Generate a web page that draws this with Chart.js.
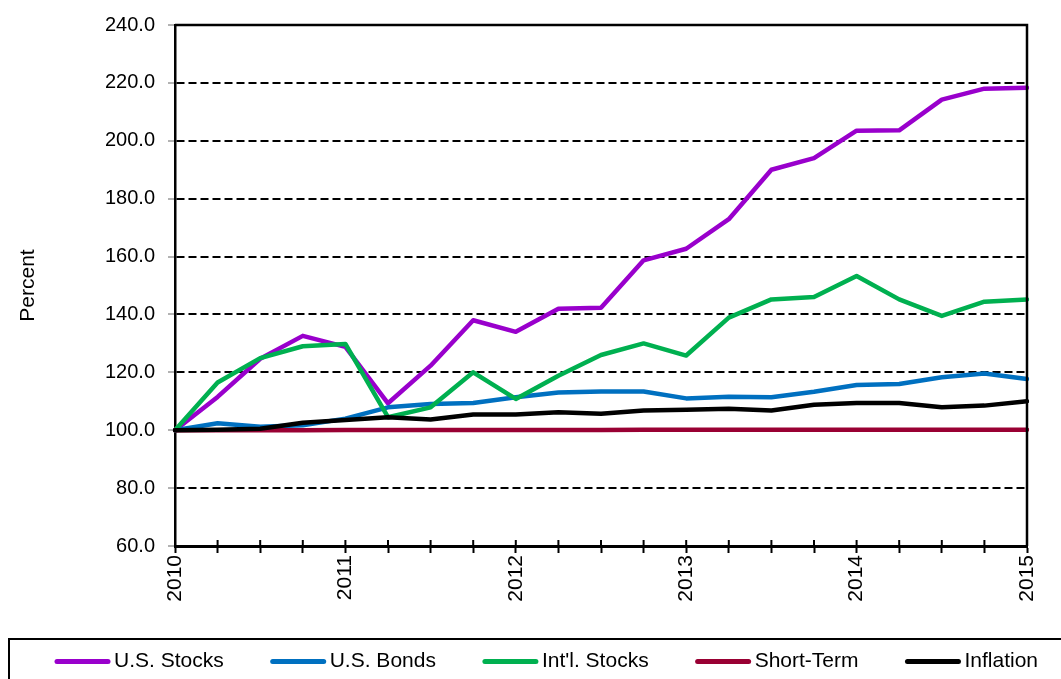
<!DOCTYPE html>
<html lang="en">
<head>
    <meta charset="UTF-8">
    <title>Growth of 100 - 2010 to 2015</title>
    <script src="https://cdn.jsdelivr.net/npm/chart.js"></script>
    <style>
        body {
            margin: 0;
            padding: 0;
            background: #fff;
        }
        #chart-container {
            width: 1061px;
            height: 679px;
        }
    </style>
</head>
<body>
    <div id="chart-container">
        <canvas id="growthChart"></canvas>
    </div>

    <script>
        // quarterly points, only the year starts get a label
        const tickLabels = ['2010', '', '', '', '2011', '', '', '', '2012', '', '', '',
                            '2013', '', '', '', '2014', '', '', '', '2015'];

        const seriesNames = ['U.S. Stocks', 'U.S. Bonds', "Int'l. Stocks", 'Short-Term', 'Inflation'];
        const seriesColors = ['#9900CC', '#0070C0', '#00B050', '#990033', '#000000'];

        const usStocks = [100, 111.5, 124.7, 132.6, 128.8, 109.3, 122.3, 138.0, 134.0, 142.0, 142.3,
                          158.7, 162.7, 172.9, 190.0, 194.0, 203.5, 203.6, 214.2, 218.0, 218.3];
        const usBonds = [100, 102.4, 101.2, 101.7, 104.0, 107.9, 109.1, 109.4, 111.4, 113.0, 113.4,
                         113.4, 111.0, 111.6, 111.4, 113.3, 115.6, 116.0, 118.3, 119.6, 117.7];
        const intlStocks = [100, 116.5, 124.9, 129.0, 129.8, 104.5, 107.9, 120.0, 110.8, 118.8, 126.0,
                            130.0, 125.8, 138.9, 145.2, 146.0, 153.3, 145.2, 139.5, 144.4, 145.2];
        const shortTerm = [100, 100, 100, 100, 100.1, 100.1, 100.1, 100.1, 100.1, 100.1, 100.1,
                           100.2, 100.2, 100.2, 100.2, 100.2, 100.2, 100.2, 100.2, 100.2, 100.2];
        const inflation = [100, 100.2, 100.5, 102.6, 103.5, 104.5, 103.7, 105.4, 105.4, 106.2, 105.7,
                           106.8, 107.1, 107.4, 106.8, 108.8, 109.4, 109.4, 107.9, 108.5, 110.0];

        const seriesValues = [usStocks, usBonds, intlStocks, shortTerm, inflation];

        const FONT = "'Liberation Sans', Arial, sans-serif";

        // frame on top and right, plus the part of the x ticks that pokes into the plot
        const framePlugin = {
            id: 'frame',
            afterDatasetsDraw(chart) {
                const { ctx, chartArea } = chart;
                const xScale = chart.scales.x;
                ctx.save();
                ctx.strokeStyle = '#000';
                ctx.lineWidth = 2.5;
                ctx.beginPath();
                ctx.moveTo(chartArea.left, chartArea.top);
                ctx.lineTo(chartArea.right, chartArea.top);
                ctx.lineTo(chartArea.right, chartArea.bottom);
                ctx.stroke();

                ctx.lineWidth = 2;
                ctx.beginPath();
                for (let i = 0; i < tickLabels.length; i++) {
                    const x = xScale.getPixelForTick(i);
                    ctx.moveTo(x, chartArea.bottom);
                    ctx.lineTo(x, chartArea.bottom - 6);
                }
                ctx.stroke();
                ctx.restore();
            }
        };

        // boxed legend along the bottom edge
        const boxLegendPlugin = {
            id: 'boxLegend',
            afterDraw(chart) {
                const ctx = chart.ctx;
                ctx.save();
                ctx.strokeStyle = '#000';
                ctx.lineWidth = 2;
                ctx.strokeRect(9, 639, 1100, 100);

                ctx.font = '21px ' + FONT;
                ctx.textBaseline = 'middle';
                ctx.textAlign = 'left';
                const y = 661.5;
                let x = 55;
                chart.data.datasets.forEach(ds => {
                    ctx.strokeStyle = ds.borderColor;
                    ctx.lineWidth = 5;
                    ctx.lineCap = 'round';
                    ctx.beginPath();
                    ctx.moveTo(x + 2, y);
                    ctx.lineTo(x + 53, y);
                    ctx.stroke();
                    ctx.fillStyle = '#000';
                    ctx.fillText(ds.label, x + 59, y);
                    x += 59 + ctx.measureText(ds.label).width + 47;
                });
                ctx.restore();
            }
        };

        const ctx = document.getElementById('growthChart').getContext('2d');

        new Chart(ctx, {
            type: 'line',
            data: {
                labels: tickLabels,
                datasets: seriesNames.map((name, i) => ({
                    label: name,
                    data: seriesValues[i],
                    borderColor: seriesColors[i],
                    backgroundColor: seriesColors[i],
                    borderWidth: 4.5,
                    pointRadius: 0,
                    tension: 0,
                    borderJoinStyle: 'round',
                    borderCapStyle: 'round',
                    order: seriesNames.length - i
                }))
            },
            options: {
                responsive: true,
                maintainAspectRatio: false,
                animation: false,
                layout: {
                    padding: { left: 0, right: 34, top: 23, bottom: 43 }
                },
                plugins: {
                    legend: { display: false },
                    tooltip: { enabled: false }
                },
                scales: {
                    x: {
                        offset: false,
                        grid: {
                            display: true,
                            drawOnChartArea: false,
                            drawTicks: true,
                            tickLength: 7,
                            tickWidth: 2,
                            tickColor: '#000'
                        },
                        border: { display: true, color: '#000', width: 3 },
                        ticks: {
                            autoSkip: false,
                            minRotation: 90,
                            maxRotation: 90,
                            padding: 2,
                            color: '#000',
                            font: { family: FONT, size: 21 }
                        },
                        afterFit(scale) {
                            scale.height = 90;
                        }
                    },
                    y: {
                        min: 60,
                        max: 240,
                        ticks: {
                            stepSize: 20,
                            padding: 13,
                            color: '#000',
                            font: { family: FONT, size: 20 },
                            callback: v => v.toFixed(1)
                        },
                        grid: {
                            color: '#000',
                            lineWidth: 2,
                            drawTicks: true,
                            tickLength: 7,
                            tickWidth: 1,
                            tickColor: '#666'
                        },
                        border: { display: true, color: '#000', width: 2.5, dash: [8, 4] },
                        title: {
                            display: true,
                            text: 'Percent',
                            color: '#000',
                            font: { family: FONT, size: 21 },
                            padding: { top: 16, bottom: 0 }
                        },
                        afterFit(scale) {
                            scale.width = 175;
                        }
                    }
                }
            },
            plugins: [framePlugin, boxLegendPlugin]
        });
    </script>
</body>
</html>
